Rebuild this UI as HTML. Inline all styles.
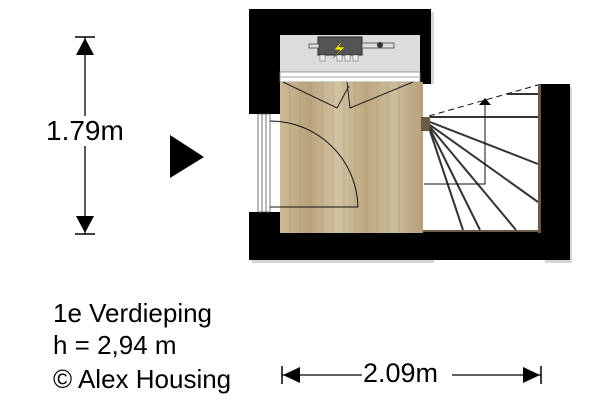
<!DOCTYPE html>
<html><head><meta charset="utf-8"><style>
html,body{margin:0;padding:0;background:#fff;}
svg{display:block;}
text{font-family:"Liberation Sans",Arial,sans-serif;fill:#000;}
</style></head><body>
<svg width="600" height="400" viewBox="0 0 600 400" xmlns="http://www.w3.org/2000/svg">
<defs>
<linearGradient id="wood" x1="0" x2="1" y1="0" y2="0">
<stop offset="0" stop-color="#cbb996"/><stop offset="0.2" stop-color="#b9a37c"/>
<stop offset="0.4" stop-color="#d2c3a3"/><stop offset="0.6" stop-color="#bda880"/>
<stop offset="0.8" stop-color="#cdbd9b"/><stop offset="1" stop-color="#b6a07a"/>
</linearGradient>
</defs>
<rect x="252" y="12" width="182" height="251" fill="#999" opacity="0.4"/>
<rect x="545" y="87" width="27" height="176" fill="#999" opacity="0.4"/>
<rect x="249" y="9" width="182" height="251" fill="#000"/>
<rect x="420" y="84" width="150" height="176" fill="#000"/>
<rect x="423" y="84" width="115" height="148" fill="#fff"/>
<rect x="538" y="84" width="3" height="149" fill="#6b5a48"/>
<rect x="423" y="230" width="117" height="2" fill="#6b5a48"/>
<rect x="280" y="35" width="140" height="37" fill="#dcdcdc"/>
<rect x="318" y="37" width="44" height="18" fill="#555" stroke="#222"/>
<rect x="309" y="44" width="10" height="4" fill="#ddd" stroke="#333" stroke-width="0.7"/>
<rect x="362" y="43" width="32" height="5" fill="#ddd" stroke="#333" stroke-width="0.7"/>
<circle cx="380" cy="45" r="3" fill="#333"/>
<rect x="320" y="55" width="5" height="6" fill="#eee" stroke="#555" stroke-width="0.5"/>
<rect x="337" y="55" width="5" height="6" fill="#eee" stroke="#555" stroke-width="0.5"/>
<rect x="345" y="55" width="5" height="6" fill="#eee" stroke="#555" stroke-width="0.5"/>
<rect x="353" y="55" width="5" height="6" fill="#eee" stroke="#555" stroke-width="0.5"/>
<path d="M343 40 L334 50 L340 50 L333 58 L345 47 L339 47 Z" fill="#ee0" stroke="#333" stroke-width="0.5"/>
<rect x="280" y="72" width="140" height="10" fill="#fff" stroke="#888" stroke-width="0.8"/>
<line x1="281" y1="77" x2="419" y2="77" stroke="#888" stroke-width="0.8"/>
<rect x="280" y="82" width="143" height="151" fill="url(#wood)"/>
<g stroke="#a8946e" stroke-width="0.6" opacity="0.7">
<line x1="290" y1="82" x2="290" y2="233"/><line x1="300" y1="82" x2="300" y2="233"/>
<line x1="311" y1="82" x2="311" y2="233"/><line x1="322" y1="82" x2="322" y2="233"/>
<line x1="333" y1="82" x2="333" y2="233"/><line x1="344" y1="82" x2="344" y2="233"/>
<line x1="355" y1="82" x2="355" y2="233"/><line x1="366" y1="82" x2="366" y2="233"/>
<line x1="377" y1="82" x2="377" y2="233"/><line x1="388" y1="82" x2="388" y2="233"/>
<line x1="399" y1="82" x2="399" y2="233"/><line x1="410" y1="82" x2="410" y2="233"/>
</g>
<rect x="421" y="117" width="9" height="14" fill="#6b5a48"/>
<path d="M283 82 L337 108 L349 86 M347 82 L350 108 L413 82" fill="none" stroke="#222" stroke-width="1"/>
<rect x="249" y="114" width="31" height="98" fill="#fff"/>
<g stroke="#555" stroke-width="0.8" fill="none">
<rect x="258" y="114" width="12" height="98"/>
<line x1="262" y1="114" x2="262" y2="212"/><line x1="266" y1="114" x2="266" y2="212"/>
</g>
<path d="M270 121 A88 88 0 0 1 358 207 L270 207" fill="none" stroke="#111" stroke-width="1"/>
<g stroke="#333" stroke-width="2">
<line x1="430" y1="117" x2="538" y2="117"/>
<line x1="430" y1="122" x2="538" y2="164"/>
<line x1="430" y1="125" x2="538" y2="202"/>
<line x1="430" y1="127" x2="516" y2="230"/>
<line x1="430" y1="129" x2="480" y2="230"/>
<line x1="430" y1="131" x2="463" y2="230"/>
<line x1="507" y1="94" x2="538" y2="94"/>
</g>
<path d="M429 116 L538 85" stroke="#111" stroke-width="1" stroke-dasharray="6,4" fill="none"/>
<path d="M424 184 L485 184 L485 104" stroke="#111" stroke-width="1" fill="none"/>
<path d="M479 105 L485 98 L491 105 Z" fill="#000"/>
<line x1="85" y1="37" x2="85" y2="234" stroke="#000" stroke-width="1.3"/>
<line x1="75" y1="37" x2="95" y2="37" stroke="#000" stroke-width="1.5"/>
<line x1="75" y1="234" x2="95" y2="234" stroke="#000" stroke-width="1.5"/>
<path d="M76 55 L85 38 L94 55 Z M76 216 L85 233 L94 216 Z" fill="#000"/>
<rect x="46" y="116" width="80" height="30" fill="#fff"/>
<text x="46" y="140" font-size="28">1.79m</text>
<path d="M170 135 L204 157 L170 178 Z" fill="#000"/>
<text x="53" y="322" font-size="26">1e Verdieping</text>
<text x="53" y="354" font-size="26">h = 2,94 m</text>
<text x="53" y="388" font-size="26">© Alex Housing</text>
<line x1="282" y1="375" x2="541" y2="375" stroke="#000" stroke-width="1.3"/>
<line x1="282" y1="366" x2="282" y2="384" stroke="#000" stroke-width="1.5"/>
<line x1="541" y1="366" x2="541" y2="384" stroke="#000" stroke-width="1.5"/>
<path d="M283 375 L300 367 L300 383 Z M540 375 L523 367 L523 383 Z" fill="#000"/>
<rect x="362" y="360" width="90" height="25" fill="#fff"/>
<text x="363" y="382" font-size="27">2.09m</text>
</svg>
</body></html>
